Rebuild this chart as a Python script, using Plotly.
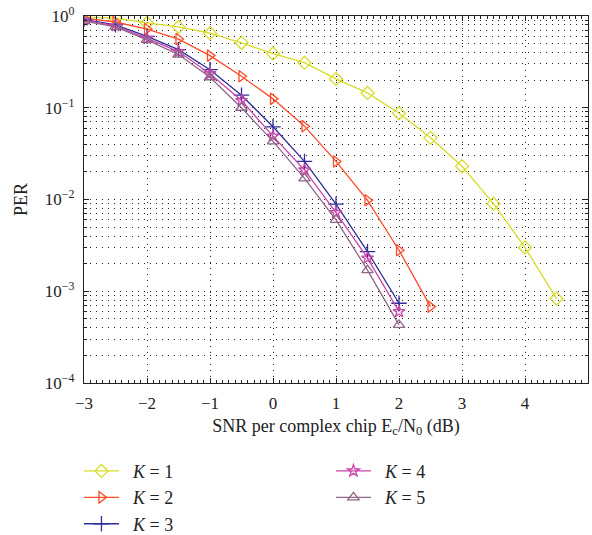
import plotly.graph_objects as go

snr1 = [-3, -2.5, -2, -1.5, -1, -0.5, 0, 0.5, 1, 1.5, 2, 2.5, 3, 3.5, 4, 4.5]
per1 = [0.97, 0.95, 0.84, 0.76, 0.65, 0.51, 0.39, 0.31, 0.206, 0.145, 0.087, 0.047, 0.023, 0.009, 0.003, 0.00083]
snr2 = [-3, -2.5, -2, -1.5, -1, -0.5, 0, 0.5, 1, 1.5, 2, 2.5]
per2 = [0.95, 0.86, 0.72, 0.56, 0.37, 0.22, 0.125, 0.063, 0.026, 0.0098, 0.0028, 0.00068]
snr345 = [-3, -2.5, -2, -1.5, -1, -0.5, 0, 0.5, 1, 1.5, 2]
per3 = [0.92, 0.80, 0.60, 0.43, 0.26, 0.137, 0.062, 0.026, 0.0089, 0.0027, 0.00074]
per4 = [0.90, 0.78, 0.57, 0.41, 0.235, 0.12, 0.049, 0.021, 0.0072, 0.0023, 0.0006]
per5 = [0.88, 0.76, 0.55, 0.38, 0.215, 0.10, 0.043, 0.017, 0.006, 0.0017, 0.00043]

names = ["\u2002<i>K</i> = 1", "\u2002<i>K</i> = 2", "\u2002<i>K</i> = 3", "\u2002<i>K</i> = 4", "\u2002<i>K</i> = 5"]
colors = ["#D8DC28", "#FF4A28", "#2E2E9A", "#CC44AA", "#8E6688"]
symbols = ["diamond-open", "triangle-right-open", "cross-thin-open", "star-open", "triangle-up-open"]
sizes = [10, 10, 11, 9, 10]
legends = ["legend", "legend", "legend", "legend2", "legend2"]
xs = [snr1, snr2, snr345, snr345, snr345]
ys = [per1, per2, per3, per4, per5]

ytv = [1, 0.1, 0.01, 0.001, 0.0001]
ytt = ["10<sup>0</sup>", "10<sup>−1</sup>", "10<sup>−2</sup>", "10<sup>−3</sup>", "10<sup>−4</sup>"]
yminor = [m * 10.0 ** e for e in range(-4, 0) for m in range(2, 10)]

FONT = "Liberation Serif"
GRIDDASH = "1px,5px"
fig = go.Figure()
for i in range(5):
    fig.add_trace(go.Scatter(
        x=xs[i], y=ys[i], name=names[i], mode="lines+markers",
        line=dict(color=colors[i], width=1.3),
        marker=dict(symbol=symbols[i], size=sizes[i], color=colors[i],
                    line=dict(color=colors[i], width=1.3)),
        legend=legends[i], legendgroup="g%d" % i,
    ))

fig.update_layout(
    width=592, height=535,
    margin=dict(l=84, r=4, t=16, b=152, autoexpand=False),
    paper_bgcolor="white", plot_bgcolor="white",
    font=dict(family=FONT, size=17, color="#222222"),
    xaxis=dict(
        range=[-3, 5],
        tickvals=[-3, -2, -1, 0, 1, 2, 3, 4, 5],
        ticktext=["−3", "−2", "−1", "0", "1", "2", "3", "4", "5"],
        ticks="inside", ticklen=5, tickcolor="#222", mirror="allticks",
        ticklabelstandoff=4,
        showline=True, linecolor="#222", linewidth=1.2,
        showgrid=True, gridcolor="#222", griddash=GRIDDASH, gridwidth=1.2,
        zeroline=False,
        minor=dict(tickvals=[v / 10 for v in range(-30, 51) if v % 10 != 0],
                   ticks="inside", ticklen=3, tickcolor="#222", showgrid=False),
        title=dict(text="SNR per complex chip E<sub>c</sub>/N<sub>0</sub> (dB)", standoff=7,
                   font=dict(size=18)),
    ),
    yaxis=dict(
        type="log", range=[-4, 0],
        tickvals=ytv, ticktext=ytt,
        ticks="inside", ticklen=5, tickcolor="#222", mirror="allticks",
        ticklabelstandoff=5,
        showline=True, linecolor="#222", linewidth=1.2,
        showgrid=True, gridcolor="#222", griddash=GRIDDASH, gridwidth=1.2,
        zeroline=False,
        minor=dict(tickvals=yminor, ticks="inside", ticklen=3, tickcolor="#222",
                   showgrid=True, gridcolor="#222", griddash=GRIDDASH, gridwidth=1.2),
        title=dict(text="PER", standoff=12, font=dict(size=18)),
    ),
    legend=dict(x=-0.01, y=-0.19, xanchor="left", yanchor="top",
                bgcolor="rgba(0,0,0,0)", font=dict(size=18), itemwidth=35,
                tracegroupgap=0),
    legend2=dict(x=0.49, y=-0.19, xanchor="left", yanchor="top",
                 bgcolor="rgba(0,0,0,0)", font=dict(size=18), itemwidth=35,
                 tracegroupgap=0),
)

fig.write_html("out.html")
